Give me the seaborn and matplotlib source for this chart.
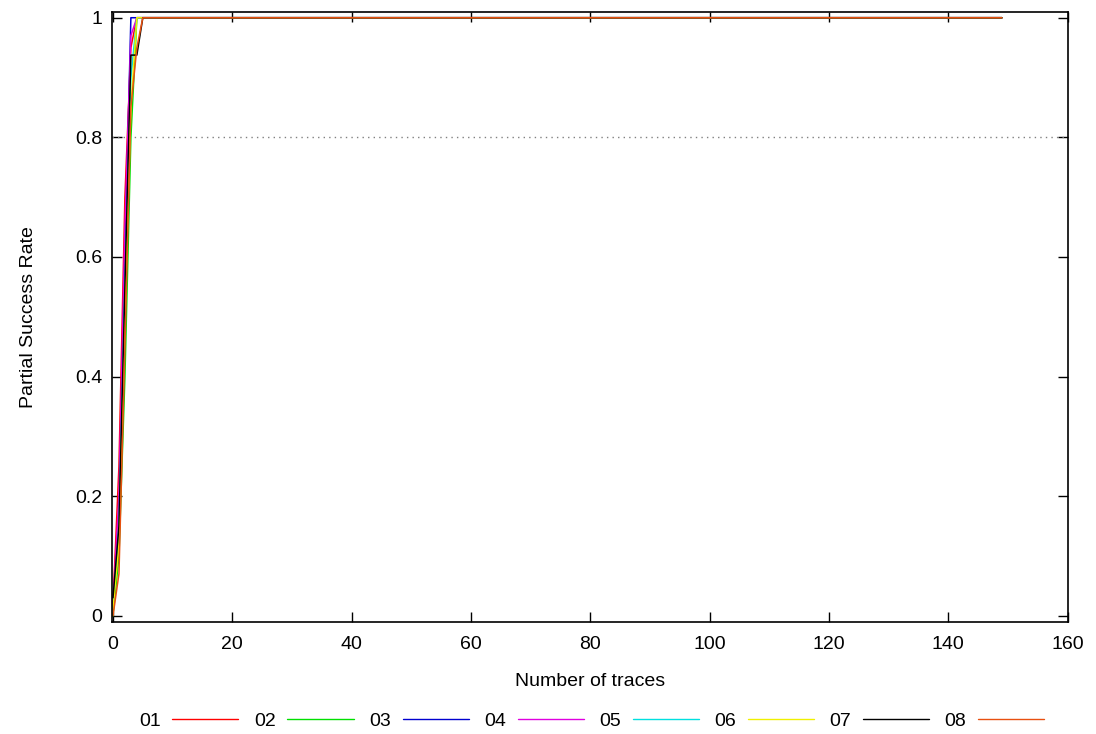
import numpy as np
import pandas as pd
import matplotlib
matplotlib.use("Agg")
import matplotlib.pyplot as plt
import seaborn as sns

# number of traces (curves are flat at 1 after x=5 up to the last trace)
traces = [0, 1, 2, 3, 4, 5, 149]

keys = ["01", "02", "03", "04", "05", "06", "07", "08"]
rate_01 = [0.02, 0.25, 0.70, 0.95, 1.0, 1.0, 1.0]
rate_02 = [0.00, 0.10, 0.40, 0.80, 1.0, 1.0, 1.0]
rate_03 = [0.01, 0.15, 0.60, 1.00, 1.0, 1.0, 1.0]
rate_04 = [0.02, 0.20, 0.65, 0.97, 1.0, 1.0, 1.0]
rate_05 = [0.01, 0.15, 0.55, 0.90, 1.0, 1.0, 1.0]
rate_06 = [0.01, 0.12, 0.50, 0.85, 1.0, 1.0, 1.0]
rate_07 = [0.03, 0.15, 0.55, 0.9375, 0.9375, 1.0, 1.0]
rate_08 = [0.00, 0.07, 0.45, 0.85, 0.95, 1.0, 1.0]
rates = [rate_01, rate_02, rate_03, rate_04, rate_05, rate_06, rate_07, rate_08]

colors = ["#ff0000", "#00e000", "#0000d0", "#e000e0",
          "#00e0e0", "#f0f000", "#000000", "#e85010"]

rows = []
for k, r in zip(keys, rates):
    for x, y in zip(traces, r):
        rows.append({"traces": x, "rate": y, "key": k})
df = pd.DataFrame(rows)

sns.set_style("ticks")
plt.rcParams["font.family"] = ["Liberation Sans", "DejaVu Sans"]
plt.rcParams["xtick.direction"] = "in"
plt.rcParams["ytick.direction"] = "in"
plt.rcParams["text.color"] = "black"
plt.rcParams["axes.labelcolor"] = "black"
plt.rcParams["xtick.color"] = "black"
plt.rcParams["ytick.color"] = "black"
plt.rcParams["axes.edgecolor"] = "black"

fig = plt.figure(figsize=(10.96, 7.34), dpi=100)
ax = fig.add_axes([0.102, 0.153, 0.872, 0.831])

ax.axhline(0.8, color="#808080", linestyle=(0, (1, 3)), linewidth=1)
sns.lineplot(data=df, x="traces", y="rate", hue="key", palette=colors,
             linewidth=1.1, ax=ax, estimator=None, sort=False)
# last series on top, drawn a bit cleaner
ax.lines[-1].set_linewidth(1.4)

ax.set_xlim(-0.2, 160)
ax.set_ylim(-0.01, 1.01)
ax.set_xticks(np.arange(0, 161, 20))
ax.set_yticks([0, 0.2, 0.4, 0.6, 0.8, 1])
ax.set_yticklabels(["0", "0.2", "0.4", "0.6", "0.8", "1"])
ax.tick_params(axis="both", which="both", length=7, width=1,
               top=True, right=True, labelsize=14)
ax.tick_params(axis="x", pad=10)
ax.tick_params(axis="y", pad=7)
for s in ax.spines.values():
    s.set_linewidth(1.2)
ax.set_xlabel("Number of traces", fontsize=14, labelpad=15)
ax.set_ylabel("Partial Success Rate", fontsize=14, labelpad=27)

handles, labels = ax.get_legend_handles_labels()
leg = ax.legend(handles, labels, loc="upper center", bbox_to_anchor=(0.502, -0.12),
                ncol=8, frameon=False, markerfirst=False, fontsize=14,
                handlelength=3.4, columnspacing=0.8, handletextpad=0.6)
for h in leg.get_lines():
    h.set_linewidth(1.0)

fig.savefig("out.png", dpi=100)
